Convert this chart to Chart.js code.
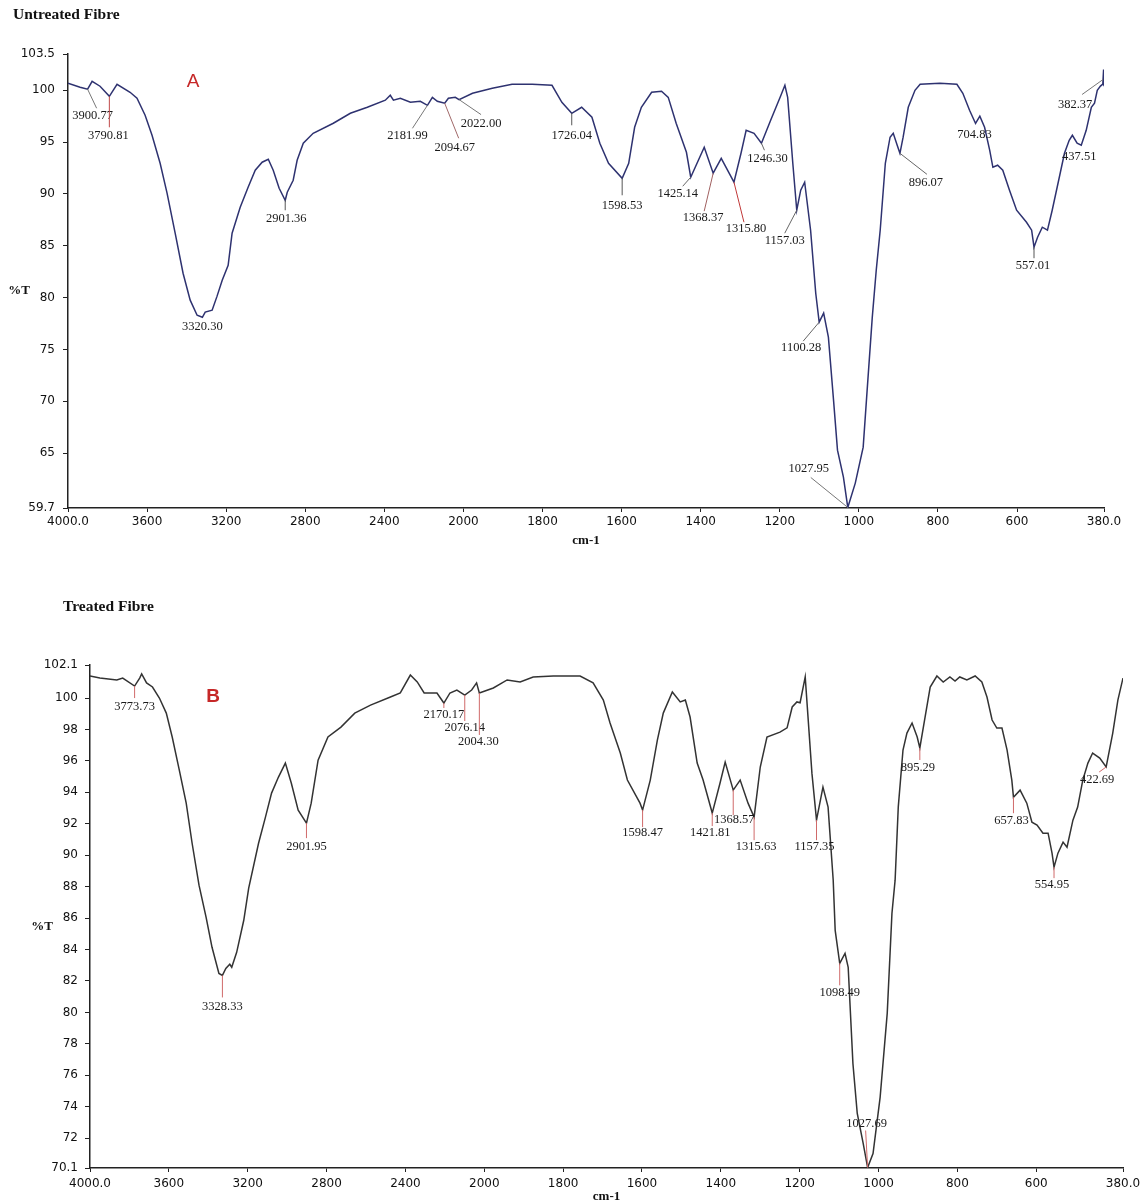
<!DOCTYPE html>
<html>
<head>
<meta charset="utf-8">
<script src="https://cdn.jsdelivr.net/npm/chart.js@4.4.1/dist/chart.umd.min.js"></script>
<style>
  html, body { margin: 0; padding: 0; background: #fff; }
  #wrapA { position: absolute; left: 0; top: 0; }
  #wrapB { position: absolute; left: 0; top: 590px; }
</style>
</head>
<body>
<div id="wrapA"><canvas id="chartA" width="1147" height="590"></canvas></div>
<div id="wrapB"><canvas id="chartB" width="1147" height="614"></canvas></div>
<script>
// x axis is expanded x2 below 2000 cm-1, like the instrument plot
const xTicks = [4000, 3600, 3200, 2800, 2400, 2000, 1800, 1600, 1400, 1200, 1000, 800, 600, 380];
const yTicksA = [59.7, 65, 70, 75, 80, 85, 90, 95, 100, 103.5];
const yTicksB = [70.1, 72, 74, 76, 78, 80, 82, 84, 86, 88, 90, 92, 94, 96, 98, 100, 102.1];

// untreated fibre spectrum
const wnA = [4000, 3939, 3900.77, 3878, 3838, 3790.81, 3752, 3686, 3651, 3610, 3575, 3534, 3499, 3458, 3418, 3382, 3347, 3320.3, 3306, 3271,
  3246, 3220, 3190, 3170, 3129, 3089, 3053, 3018, 2987, 2962, 2932, 2901.36, 2891, 2861, 2841, 2810, 2760, 2658, 2572, 2486,
  2395, 2370, 2354, 2319, 2268, 2218, 2181.99, 2157, 2132, 2094.67, 2076, 2041, 2022, 1977, 1927, 1877, 1826, 1776, 1751, 1726.04,
  1701, 1675, 1655, 1633, 1598.53, 1582, 1567, 1550, 1524, 1499, 1482, 1462, 1436, 1425.14, 1391, 1368.37, 1348, 1315.8, 1298, 1285,
  1265, 1246.3, 1223, 1197, 1187, 1180, 1167, 1157.03, 1147, 1137, 1122, 1109, 1100.28, 1089, 1077, 1064, 1054, 1039, 1027.95, 1009,
  989, 979, 966, 956, 946, 933, 921, 913, 903, 896.07, 888, 875, 858, 845, 795, 752, 737, 720, 704.83, 694,
  682, 669, 661, 649, 636, 619, 601, 576, 563, 557.01, 548, 536, 523, 511, 493, 480, 468, 460, 448, 437.51,
  425, 412, 404, 397, 389, 383, 381, 380];
const tA = [100.67, 100.29, 100.1, 100.87, 100.39, 99.42, 100.58, 99.81, 99.23, 97.59, 95.66, 92.96, 90.07, 86.21, 82.35, 79.75, 78.3, 78.1, 78.6, 78.79,
  80.14, 81.68, 83.12, 86.21, 88.72, 90.65, 92.29, 93.06, 93.35, 92.29, 90.55, 89.39, 90.16, 91.32, 93.25, 94.89, 95.85, 96.82, 97.78, 98.36,
  99.04, 99.52, 99.04, 99.23, 98.84, 98.94, 98.55, 99.32, 98.94, 98.75, 99.23, 99.32, 99.1, 99.71, 100.19, 100.58, 100.58, 100.48, 98.84, 97.78,
  98.36, 97.4, 94.89, 92.96, 91.51, 92.96, 96.43, 98.36, 99.81, 99.9, 99.32, 96.82, 94.02, 91.61, 94.5, 92.0, 93.44, 91.13, 93.92, 96.14,
  95.85, 94.89, 97.11, 99.52, 100.48, 99.32, 92.96, 88.43, 90.36, 91.13, 86.5, 80.42, 77.63, 78.5, 76.18, 70.11, 65.28, 62.68, 59.75, 62.1,
  65.57, 71.07, 78.11, 82.64, 86.5, 92.96, 95.47, 95.85, 94.7, 93.92, 95.47, 98.36, 100.0, 100.58, 100.67, 100.58, 99.71, 98.07, 96.8, 97.5,
  96.43, 94.21, 92.57, 92.77, 92.29, 90.36, 88.43, 87.27, 86.5, 84.86, 85.82, 86.79, 86.5, 88.43, 91.61, 93.92, 95.18, 95.66, 94.89, 94.7,
  96.14, 98.36, 98.75, 100.0, 100.4, 100.6, 102.0, 100.4];
const peakTextA = ["3900.77", "3790.81", "3320.30", "2901.36", "2181.99", "2094.67", "2022.00", "1726.04", "1598.53", "1425.14", "1368.37",
  "1315.80", "1246.30", "1157.03", "1100.28", "1027.95", "896.07", "704.83", "557.01", "437.51", "382.37"];
const peakWnA = [3900.77, 3790.81, 3320.3, 2901.36, 2181.99, 2094.67, 2022, 1726.04, 1598.53, 1425.14, 1368.37,
  1315.8, 1246.3, 1157.03, 1100.28, 1027.95, 896.07, 704.83, 557.01, 437.51, 382.37];

// treated fibre spectrum
const wnB = [4000, 3950, 3864, 3834, 3773.73, 3748, 3738, 3713, 3683, 3648, 3613, 3583, 3547, 3512, 3482, 3447, 3411, 3381, 3346, 3328.33,
  3311, 3291, 3281, 3256, 3220, 3195, 3145, 3110, 3079, 3044, 3009, 2979, 2944, 2901.95, 2878, 2843, 2793, 2727, 2657, 2577,
  2476, 2426, 2375, 2340, 2305, 2240, 2205, 2174, 2139, 2099, 2064, 2039, 2025, 1977, 1942, 1909, 1876, 1825, 1757, 1724,
  1698, 1681, 1655, 1637, 1605, 1598.47, 1579, 1561, 1546, 1523, 1503, 1490, 1478, 1460, 1445, 1421.81, 1402, 1389, 1368.57, 1351,
  1331, 1315.63, 1300, 1283, 1250, 1232, 1219, 1207, 1199, 1186, 1169, 1157.35, 1141, 1128, 1115, 1110, 1098.49, 1085, 1077, 1065,
  1054, 1039, 1027.69, 1014, 996, 978, 966, 958, 950, 938, 928, 915, 902, 895.29, 882, 869, 852, 836, 819, 806,
  794, 776, 755, 738, 725, 712, 700, 687, 674, 662, 657.83, 641, 624, 611, 598, 583, 570, 560, 554.95, 545,
  532, 522, 507, 495, 482, 469, 457, 439, 422.69, 406, 393, 380];
const tB = [101.4, 101.27, 101.15, 101.27, 100.76, 101.27, 101.53, 100.96, 100.7, 100.0, 99.04, 97.52, 95.41, 93.31, 90.76, 88.09, 86.05, 84.14, 82.48, 82.35,
  82.8, 83.06, 82.87, 83.82, 85.86, 87.9, 90.76, 92.42, 93.95, 94.97, 95.86, 94.59, 92.87, 92.04, 93.31, 96.05, 97.52, 98.15, 99.04, 99.55,
  100.06, 100.32, 101.46, 101.02, 100.32, 100.32, 99.68, 100.32, 100.51, 100.19, 100.51, 100.96, 100.32, 100.64, 101.15, 101.02, 101.34, 101.4, 101.4, 100.96,
  99.87, 98.41, 96.5, 94.78, 93.31, 92.87, 94.78, 97.32, 99.04, 100.38, 99.75, 99.87, 98.79, 95.86, 94.78, 92.68, 94.59, 95.92, 94.14, 94.78,
  93.31, 92.42, 95.61, 97.52, 97.83, 98.1, 99.43, 99.75, 99.7, 101.34, 95.22, 92.23, 94.33, 93.06, 88.41, 85.22, 83.12, 83.76, 82.87, 76.75,
  73.57, 71.66, 70.13, 71.02, 74.59, 79.94, 86.31, 88.41, 93.06, 96.69, 97.77, 98.41, 97.52, 96.82, 98.79, 100.7, 101.4, 101.02, 101.34, 101.08,
  101.34, 101.15, 101.4, 101.02, 100.06, 98.6, 98.09, 98.09, 96.69, 94.78, 93.69, 94.14, 93.31, 92.1, 91.91, 91.4, 91.4, 90.13, 89.24, 90.13,
  90.83, 90.51, 92.23, 93.06, 94.78, 95.86, 96.5, 96.18, 95.61, 97.77, 99.87, 101.27];
const peakTextB = ["3773.73", "3328.33", "2901.95", "2170.17", "2076.14", "2004.30", "1598.47", "1421.81", "1368.57", "1315.63",
  "1157.35", "1098.49", "1027.69", "895.29", "657.83", "554.95", "422.69"];
const peakWnB = [3773.73, 3328.33, 2901.95, 2205, 2099, 2025, 1598.47, 1421.81, 1368.57, 1315.63,
  1157.35, 1098.49, 1027.69, 895.29, 657.83, 554.95, 422.69];

// label placement in px from the peak point: [text dx, text dy, leader dx, leader dy]
const peakPosA = [[5, 26, 9, 19], [-1, 39, 0, 31], [0, 9, 0, 0], [1, 18, 0, 10], [-20, 30, -15, 23], [10, 44, 14, 35], [22, 24, 22, 15],
  [0, 22, 0, 12], [0, 27, 0, 17], [-13, 16, -8, 9], [-10, 45, -9, 38], [12, 47, 10, 40], [6, 15, 3, 7], [-12, 31, -12, 23],
  [-18, 26, -16, 19], [-39, -39, -37, -30], [26, 29, 27, 21], [-1, 11, 0, 0], [-1, 19, 0, 11], [-2, 12, 0, 0], [-28, 25, -21, 15]];
const leaderColA = ["#777", "#c04848", "#777", "#555", "#777", "#a06868", "#777", "#555", "#555", "#666", "#a06060",
  "#c03838", "#666", "#666", "#666", "#777", "#666", "#777", "#555", "#666", "#777"];
const peakPosB = [[0, 21, 0, 12], [0, 31, 0, 22], [0, 24, 0, 15], [0, 12, 0, 5], [0, 33, 0, 26], [-1, 49, 0, 42], [0, 23, 0, 17],
  [-2, 20, 0, 13], [1, 30, 0, 25], [2, 30, 0, 23], [-2, 27, 0, 20], [0, 29, 0, 22], [-1, -44, -2, -37], [-2, 20, 0, 12],
  [-2, 24, 0, 16], [-2, 18, 0, 11], [-9, 13, -7, 5]];

class FtirScale extends Chart.LinearScale {
  static id = 'ftir';
  static defaults = Chart.LinearScale.defaults;

  buildTicks() {
    return (this.options.tickValues || []).map(v => ({ value: v }));
  }
  toU(w) {
    const b = this.options.breakAt, f = this.options.expand;
    return w >= b ? this.max - w : (this.max - b) + (b - w) * f;
  }
  getPixelForValue(value) {
    if (value === null || value === undefined) return NaN;
    return this.getPixelForDecimal(this.toU(value) / this.toU(this.min));
  }
  getValueForPixel(pixel) {
    const b = this.options.breakAt, f = this.options.expand;
    const u = this.getDecimalForPixel(pixel) * this.toU(this.min);
    return u <= this.max - b ? this.max - u : b - (u - (this.max - b)) / f;
  }
}
Chart.register(FtirScale);

function valueAt(wns, ts, w) {
  for (let i = 0; i < wns.length - 1; i++) {
    if (w <= wns[i] && w >= wns[i + 1]) {
      const k = (wns[i] - w) / (wns[i] - wns[i + 1]);
      return ts[i] + (ts[i + 1] - ts[i]) * k;
    }
  }
  return ts[ts.length - 1];
}

const decor = {
  id: 'decor',
  afterDatasetsDraw(chart, args, o) {
    const ctx = chart.ctx;
    const xs = chart.scales.x, ys = chart.scales.y;
    ctx.save();
    ctx.lineWidth = 1;
    ctx.font = '12.5px "Liberation Serif"';
    ctx.textAlign = 'center';
    ctx.textBaseline = 'middle';
    o.peakWn.forEach((w, i) => {
      const px = xs.getPixelForValue(w);
      const py = ys.getPixelForValue(valueAt(o.wn, o.t, w));
      const [tdx, tdy, ldx, ldy] = o.pos[i];
      if (ldx !== 0 || ldy !== 0) {
        ctx.strokeStyle = o.leaderColors ? o.leaderColors[i] : o.leaderColor;
        ctx.beginPath();
        ctx.moveTo(px, py);
        ctx.lineTo(px + ldx, py + ldy);
        ctx.stroke();
      }
      ctx.fillStyle = '#1a1a1a';
      ctx.fillText(o.peakText[i], px + tdx, py + tdy);
    });

    ctx.textAlign = 'left';
    ctx.font = 'bold 15.5px "Liberation Serif"';
    ctx.fillStyle = '#111';
    ctx.fillText(o.title, o.titleX, o.titleY);

    ctx.textAlign = 'center';
    ctx.font = 'bold 13px "Liberation Serif"';
    ctx.fillText('%T', o.yLabelX, o.yLabelY);

    ctx.font = o.letterFont;
    ctx.fillStyle = '#c62828';
    ctx.fillText(o.letter, o.letterX, o.letterY);
    ctx.restore();
  }
};

function makeChart(id, cfg) {
  return new Chart(document.getElementById(id), {
    type: 'line',
    data: {
      datasets: [{
        data: cfg.wn.map((w, i) => ({ x: w, y: cfg.t[i] })),
        borderColor: cfg.color,
        borderWidth: 1.5,
        pointRadius: 0,
        tension: 0,
        fill: false
      }]
    },
    options: {
      responsive: false,
      animation: false,
      layout: { padding: { top: cfg.padTop, right: cfg.padRight, left: 0, bottom: 0 } },
      plugins: {
        legend: { display: false },
        tooltip: { enabled: false },
        decor: cfg.decor
      },
      scales: {
        x: {
          type: 'ftir',
          min: 380,
          max: 4000,
          breakAt: 2000,
          expand: 2,
          tickValues: xTicks,
          border: { color: '#222', width: 1.5 },
          grid: { drawOnChartArea: false, tickLength: 4, color: '#222' },
          ticks: {
            autoSkip: false,
            maxRotation: 0,
            padding: cfg.xTickPad,
            color: '#111',
            font: { family: 'DejaVu Sans', size: 12 },
            callback: v => (v === 4000 || v === 380) ? v.toFixed(1) : String(v)
          },
          title: {
            display: true,
            text: 'cm-1',
            color: '#111',
            font: { family: 'Liberation Serif', size: 13, weight: 'bold' },
            padding: { top: 0, bottom: cfg.titlePad }
          },
          afterFit: s => { s.height = cfg.xHeight; }
        },
        y: {
          min: cfg.yTicks[0],
          max: cfg.yTicks[cfg.yTicks.length - 1],
          border: { color: '#222', width: 1.5 },
          grid: { drawOnChartArea: false, tickLength: 5, color: '#222' },
          ticks: {
            padding: cfg.yTickPad,
            color: '#111',
            font: { family: 'DejaVu Sans', size: 12 },
            callback: v => String(v)
          },
          afterBuildTicks: s => { s.ticks = cfg.yTicks.map(v => ({ value: v })); },
          afterFit: s => { s.width = cfg.yWidth; }
        }
      }
    },
    plugins: [decor]
  });
}

makeChart('chartA', {
  wn: wnA, t: tA, color: '#2e3270', yTicks: yTicksA,
  padTop: 54, padRight: 43, xHeight: 82, yWidth: 68, xTickPad: 3, yTickPad: 8, titlePad: 42,
  decor: {
    wn: wnA, t: tA, peakWn: peakWnA, peakText: peakTextA, pos: peakPosA, leaderColors: leaderColA,
    title: 'Untreated Fibre', titleX: 13, titleY: 15,
    yLabelX: 19, yLabelY: 291,
    letter: 'A', letterX: 193, letterY: 82, letterFont: '19px "Liberation Sans"'
  }
});

makeChart('chartB', {
  wn: wnB, t: tB, color: '#333333', yTicks: yTicksB,
  padTop: 75, padRight: 24, xHeight: 36, yWidth: 90, xTickPad: 5, yTickPad: 7, titlePad: 0,
  decor: {
    wn: wnB, t: tB, peakWn: peakWnB, peakText: peakTextB, pos: peakPosB, leaderColor: '#d06a6a',
    title: 'Treated Fibre', titleX: 63, titleY: 17,
    yLabelX: 42, yLabelY: 337,
    letter: 'B', letterX: 213, letterY: 107, letterFont: 'bold 19px "Liberation Sans"'
  }
});
</script>
</body>
</html>
